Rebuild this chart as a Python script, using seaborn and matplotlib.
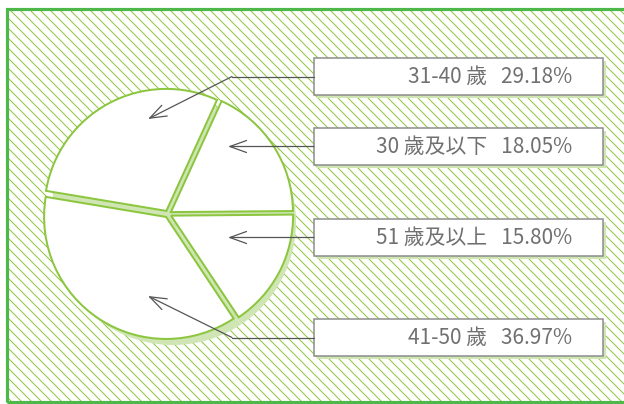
import matplotlib
matplotlib.use("Agg")
import matplotlib.pyplot as plt
from matplotlib.patches import Rectangle
import seaborn as sns


# Data (share of respondents by age group)

groups = ["30 歲及以下", "31-40 歲", "41-50 歲", "51 歲及以上"]
shares = [18.05, 29.18, 36.97, 15.80]

# order of the label boxes, top to bottom
box_order = ["31-40 歲", "30 歲及以下", "51 歲及以上", "41-50 歲"]


# Style

sns.set_theme(style="white")
plt.rcParams["font.family"] = ["Noto Sans CJK TC", "DejaVu Sans"]
plt.rcParams["hatch.linewidth"] = 0.6

GREEN = "#8cc63f"
BORDER = "#4db74a"
SHADOW = "#cfe5b3"
GREY_TEXT = "#707070"
GREY_LINE = "#8a8a8a"
ARROW = "#555555"

W, H = 624, 404
fig = plt.figure(figsize=(W / 120, H / 120), dpi=120)
ax = fig.add_axes([0, 0, 1, 1])

# hatched background and frame
ax.add_patch(Rectangle((7, 2), 640, 393, facecolor="white", edgecolor=GREEN,
                       hatch="\\" * 4, linewidth=0, zorder=0))
ax.add_patch(Rectangle((7, 2), 640, 393, fill=False, edgecolor=BORDER,
                       linewidth=1.9, zorder=1))


# Pie: shadow first, then the exploded white wedges

cx, cy, r = 168, 190, 122
ax.pie(shares, startangle=0.5, radius=r + 1, center=(cx + 5, cy - 8),
       colors=[SHADOW] * 4, wedgeprops=dict(linewidth=0), frame=False)
ax.pie(shares, startangle=0.5, radius=r, center=(cx, cy),
       explode=[3.5] * 4,
       colors=["white"] * 4,
       wedgeprops=dict(edgecolor=GREEN, linewidth=1.2, zorder=3),
       frame=False)


# Label boxes with arrows

box_x, box_w, box_h = 314, 289, 37
box_y = {"31-40 歲": 327.5, "30 歲及以下": 257.5, "51 歲及以上": 166.5, "41-50 歲": 66.5}
tips = {"31-40 歲": (148, 285), "30 歲及以下": (228, 257.5),
        "51 歲及以上": (228, 166.5), "41-50 歲": (148, 108)}
elbow_x = 232

for g in box_order:
    yc = box_y[g]
    pct = shares[groups.index(g)]
    ax.add_patch(Rectangle((box_x + 3, yc - box_h / 2 - 3), box_w, box_h,
                           facecolor=SHADOW, edgecolor="none", zorder=5))
    ax.add_patch(Rectangle((box_x, yc - box_h / 2), box_w, box_h,
                           facecolor="white", edgecolor=GREY_LINE,
                           linewidth=0.9, zorder=6))
    ax.text(572, yc, f"{g}   {pct:.2f}%", ha="right", va="center",
            fontsize=12.5, fontweight="light", color=GREY_TEXT, zorder=7)

    tx, ty = tips[g]
    start = (box_x, yc)
    if ty != yc:
        ax.plot([box_x, elbow_x], [yc, yc], color=ARROW, lw=0.75, zorder=8)
        start = (elbow_x, yc)
    ax.annotate("", xy=(tx, ty), xytext=start, zorder=8,
                arrowprops=dict(arrowstyle="->,head_length=1.0,head_width=0.36",
                                color=ARROW, lw=0.75, mutation_scale=10,
                                shrinkA=0, shrinkB=0))

ax.set_xlim(0, W)
ax.set_ylim(0, H)
ax.set_aspect("auto")
ax.axis("off")

fig.savefig("out.png", dpi=120)
